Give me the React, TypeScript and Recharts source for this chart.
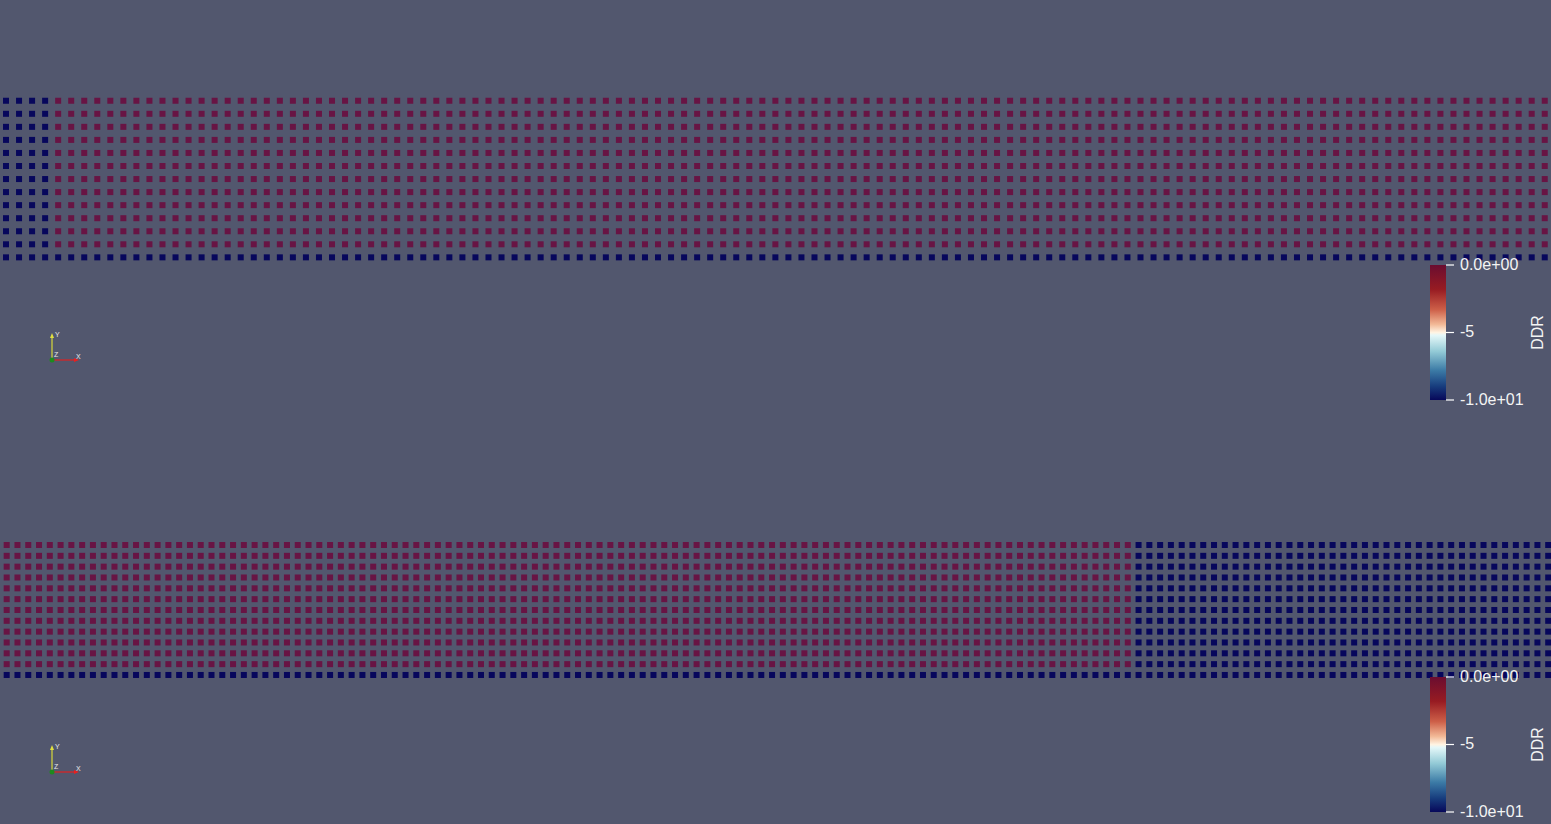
import { ScatterChart, Scatter, XAxis, YAxis } from 'recharts';

// Two views of the same point mesh, coloured by DDR (0 = warm end, -10 = cold end)
const BG = '#52576E';

// top view: 119 columns x 13 rows
const topColumnCount = 119;
const topRowCount = 13;
const topSegmentStart = [0, 4];
const topSegmentEnd = [3, 118];
const topSegmentDDR = [-10, 0];

// bottom view: 144 columns x 13 rows
const bottomColumnCount = 144;
const bottomRowCount = 13;
const bottomSegmentStart = [0, 105];
const bottomSegmentEnd = [104, 143];
const bottomSegmentDDR = [0, -10];

// the lowest row of both views is at the cold end
const baseRowDDR = -10;

const colorbarTicks = ['0.0e+00', '-5', '-1.0e+01'];

type Pt = { x: number; y: number; ddr: number };

function buildMesh(cols: number, rows: number, starts: number[], ends: number[], vals: number[]): Pt[] {
  const pts: Pt[] = [];
  for (let c = 0; c < cols; c++) {
    let v = 0;
    starts.forEach((s, k) => {
      if (c >= s && c <= ends[k]) v = vals[k];
    });
    for (let r = 0; r < rows; r++) {
      pts.push({ x: c, y: r, ddr: r === 0 ? baseRowDDR : v });
    }
  }
  return pts;
}

function pointColor(ddr: number) {
  return ddr > -5 ? '#681444' : '#07075C';
}

const SquarePoint = (props: any) => {
  const { cx, cy, payload } = props;
  if (cx == null || cy == null) return null;
  return <rect x={cx - 3} y={cy - 3} width={6} height={6} fill={pointColor(payload.ddr)} />;
};

function MeshView({ data, xDomain, yDomain }: { data: Pt[]; xDomain: [number, number]; yDomain: [number, number] }) {
  const warm = data.filter((d) => d.ddr > -5);
  const cold = data.filter((d) => d.ddr <= -5);
  return (
    <ScatterChart width={1551} height={412} margin={{ top: 0, right: 0, bottom: 0, left: 0 }}>
      <XAxis type="number" dataKey="x" domain={xDomain} hide allowDataOverflow />
      <YAxis type="number" dataKey="y" domain={yDomain} hide allowDataOverflow />
      <Scatter data={warm} shape={SquarePoint} isAnimationActive={false} />
      <Scatter data={cold} shape={SquarePoint} isAnimationActive={false} />
    </ScatterChart>
  );
}

const FONT = 'Liberation Sans, Arial, sans-serif';

function Overlay({ offset, id }: { offset: number; id: string }) {
  const barTop = 265 + offset;
  const barBottom = 400 + offset;
  const tickY = [barTop, (barTop + barBottom) / 2, barBottom];
  const ox = 52;
  const oy = 360 + offset;
  const mid = (barTop + barBottom) / 2;
  return (
    <g>
      <defs>
        <linearGradient id={id} x1="0" y1="0" x2="0" y2="1">
          <stop offset="0%" stopColor="#6A0D30" />
          <stop offset="18%" stopColor="#971B22" />
          <stop offset="33%" stopColor="#CD5F48" />
          <stop offset="44%" stopColor="#F2B997" />
          <stop offset="50%" stopColor="#FFF3E2" />
          <stop offset="52%" stopColor="#E6F8F9" />
          <stop offset="64%" stopColor="#93CAD6" />
          <stop offset="78%" stopColor="#3C7BA6" />
          <stop offset="90%" stopColor="#173C7D" />
          <stop offset="100%" stopColor="#07085A" />
        </linearGradient>
      </defs>
      <rect x={1430} y={barTop} width={16} height={barBottom - barTop} fill={`url(#${id})`} />
      {colorbarTicks.map((t, i) => (
        <g key={t}>
          <line x1={1446} x2={1454} y1={tickY[i]} y2={tickY[i]} stroke="#FFFFFF" strokeWidth={1.2} />
          <text x={1460} y={tickY[i] - 1} fill="#F4F4F4" fontSize={16} fontFamily={FONT} dominantBaseline="central">
            {t}
          </text>
        </g>
      ))}
      <text
        x={1537}
        y={mid}
        fill="#F4F4F4"
        fontSize={16}
        fontFamily={FONT}
        textAnchor="middle"
        dominantBaseline="central"
        transform={`rotate(-90 1537 ${mid})`}
      >
        DDR
      </text>
      {/* orientation glyph */}
      <line x1={ox} y1={oy} x2={ox} y2={oy - 24} stroke="#D8D83A" strokeWidth={1.2} />
      <polygon points={`${ox - 2},${oy - 22} ${ox + 2},${oy - 22} ${ox},${oy - 27}`} fill="#E0E040" />
      <line x1={ox} y1={oy} x2={ox + 23} y2={oy} stroke="#E02020" strokeWidth={1.2} />
      <polygon points={`${ox + 22},${oy - 2} ${ox + 22},${oy + 2} ${ox + 27},${oy}`} fill="#E82020" />
      <circle cx={ox} cy={oy} r={2.5} fill="#1E8A1E" />
      <text x={ox + 3} y={oy - 23} fill="#E8E8E8" fontSize={7} fontFamily={FONT}>Y</text>
      <text x={ox + 24} y={oy - 1} fill="#E8E8E8" fontSize={7} fontFamily={FONT}>X</text>
      <text x={ox + 2} y={oy - 3} fill="#E8E8E8" fontSize={7} fontFamily={FONT}>Z</text>
    </g>
  );
}

export default function App() {
  const top = buildMesh(topColumnCount, topRowCount, topSegmentStart, topSegmentEnd, topSegmentDDR);
  const bottom = buildMesh(bottomColumnCount, bottomRowCount, bottomSegmentStart, bottomSegmentEnd, bottomSegmentDDR);
  return (
    <div style={{ position: 'absolute', left: 0, top: 0, width: 1551, height: 824, background: BG, overflow: 'hidden' }}>
      <div style={{ position: 'absolute', left: 0, top: 0 }}>
        <MeshView data={top} xDomain={[-0.46, 118.48]} yDomain={[-11.85, 19.72]} />
      </div>
      <div style={{ position: 'absolute', left: 0, top: 412 }}>
        <MeshView data={bottom} xDomain={[-0.62, 143.26]} yDomain={[-13.76, 24.28]} />
      </div>
      <svg width={1551} height={824} style={{ position: 'absolute', left: 0, top: 0, pointerEvents: 'none' }}>
        <Overlay offset={0} id="ddrTop" />
        <Overlay offset={412} id="ddrBottom" />
      </svg>
    </div>
  );
}
